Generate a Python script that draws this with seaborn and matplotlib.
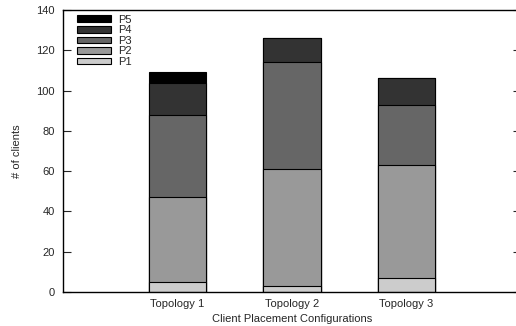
import matplotlib
matplotlib.use("Agg")
import matplotlib.pyplot as plt
from matplotlib.patches import Patch
import numpy as np
import pandas as pd
import seaborn as sns

topologies = ["Topology 1", "Topology 2", "Topology 3"]
series = ["P1", "P2", "P3", "P4", "P5"]
p1 = [5, 3, 7]
p2 = [42, 58, 56]
p3 = [41, 53, 30]
p4 = [16, 12, 13]
p5 = [5, 0, 0]
colors = ["#cccccc", "#999999", "#666666", "#333333", "#000000"]

sns.set_style("white")
plt.rcParams["font.family"] = ["Liberation Sans", "DejaVu Sans"]

stack = np.array([p1, p2, p3, p4, p5])
cum = np.cumsum(stack, axis=0)

fig = plt.figure(figsize=(5.16, 3.26), dpi=100)
ax = fig.add_axes([63 / 516, 1 - 292 / 326, 458 / 516, 282 / 326])

# Stacked bars: draw cumulative totals from the top layer down
for i in range(len(series) - 1, -1, -1):
    df = pd.DataFrame({"topology": topologies, "clients": cum[i]})
    sns.barplot(data=df, x="topology", y="clients", color=colors[i],
                width=0.5, edgecolor="black", linewidth=0.8,
                saturation=1, ax=ax)

ax.set_xlim(-1, 3)
ax.set_ylim(0, 140)
ax.set_yticks(range(0, 141, 20))
ax.set_xlabel("Client Placement Configurations", fontsize=8, labelpad=4)
ax.set_ylabel("# of clients", fontsize=8, labelpad=10)
ax.tick_params(axis="y", direction="in", length=6, width=0.8,
               left=True, right=True, labelsize=8, pad=6)
ax.tick_params(axis="x", length=0, labelsize=8, pad=5)
for s in ax.spines.values():
    s.set_color("black")
    s.set_linewidth(1.0)

handles = [Patch(facecolor=colors[i], edgecolor="black", linewidth=0.8,
                 label=series[i]) for i in range(len(series) - 1, -1, -1)]
ax.legend(handles=handles, loc="upper left", frameon=False, fontsize=8,
          handlelength=3.1, handleheight=0.55, labelspacing=0.05,
          handletextpad=0.6, borderaxespad=0.3,
          bbox_to_anchor=(0.013, 1.011))

fig.savefig("out.png", dpi=100)
